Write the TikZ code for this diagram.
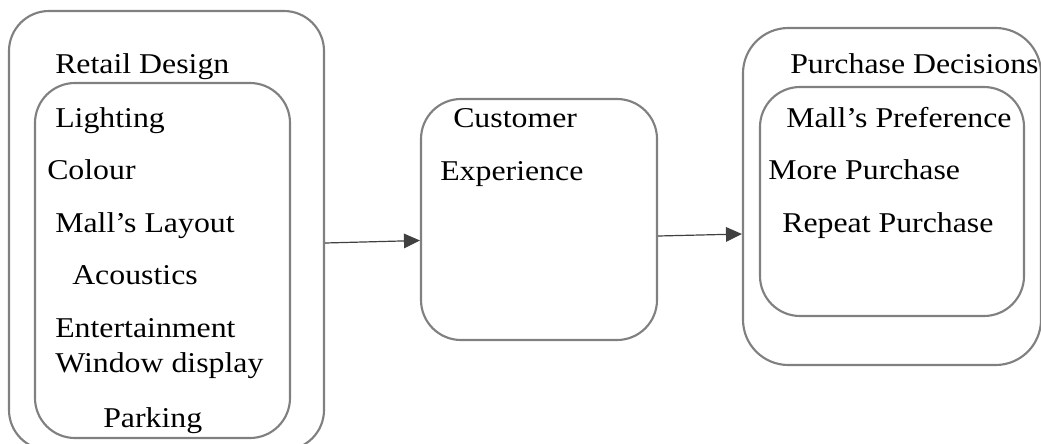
\documentclass[tikz,border=0pt]{standalone}
\usepackage{fontspec}
\setmainfont{Liberation Serif}[FakeStretch=1.11]
\usetikzlibrary{arrows.meta}
\begin{document}
\begin{tikzpicture}[x=0.75pt,y=-0.75pt,
  box/.style={draw=black!50,line width=1.6pt,rounded corners=30pt,inner sep=0pt},
  lbl/.style={anchor=base west,inner sep=0pt,font=\fontsize{21.5}{25}\selectfont},
  arr/.style={draw=black!75,line width=0.9pt,-{Triangle[length=12pt,width=11pt]}}]
\path[use as bounding box] (0,0) rectangle (1041,443);
\clip (0,0) rectangle (1041,443);
% boxes
\node[box,minimum width=236.25pt,minimum height=329.25pt] (rd) at (166.5,230.5) {};
\node[box,minimum width=191.25pt,minimum height=266.25pt] (rdi) at (162.5,260.5) {};
\node[box,minimum width=177pt,minimum height=180.75pt] (ce) at (539,219.5) {};
\node[box,minimum width=223.5pt,minimum height=252.75pt,rounded corners=34pt] (pd) at (892,196.5) {};
\node[box,minimum width=198pt,minimum height=171.75pt] (pdi) at (892,201.5) {};
% texts left
\node[lbl] (t1) at (55,73) {Retail Design};
\node[lbl] (t2) at (55,127) {Lighting};
\node[lbl] (t3) at (47,179) {Colour};
\node[lbl] (t4) at (55,232) {Mall’s Layout};
\node[lbl] (t5) at (72,284) {Acoustics};
\node[lbl] (t6) at (55,337) {Entertainment};
\node[lbl] (t7) at (55,372) {Window display};
\node[lbl] (t8) at (103,427) {Parking};
% texts middle
\node[lbl] (c1) at (453,127) {Customer};
\node[lbl] (c2) at (440,180) {Experience};
% texts right
\node[lbl] (p1) at (790,73) {Purchase Decisions};
\node[lbl] (p2) at (786,127) {Mall’s Preference};
\node[lbl] (p3) at (768,179) {More Purchase};
\node[lbl] (p4) at (782,232) {Repeat Purchase};
% connectors
\draw[arr] (rd.east |- 0,243) -- (ce.west |- 0,240.5);
\draw[arr] (ce.east |- 0,236) -- (pd.west |- 0,234);
\end{tikzpicture}
\end{document}
